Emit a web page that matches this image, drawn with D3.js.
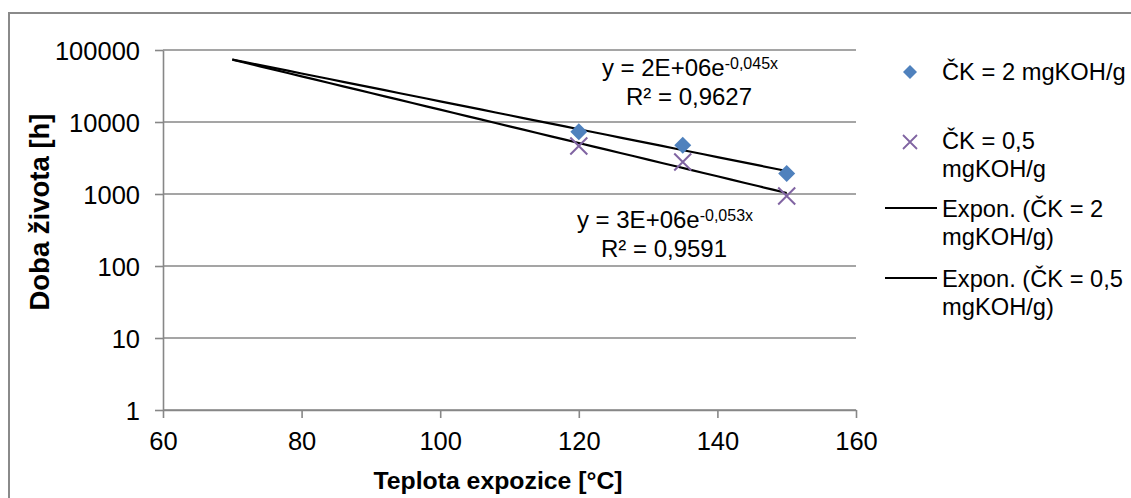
<!DOCTYPE html>
<html><head><meta charset="utf-8">
<script src="https://cdn.jsdelivr.net/npm/d3@7"></script>
<style>
body{margin:0;background:#fff;}
svg{display:block;font-family:"Liberation Sans",Arial,sans-serif;}
</style></head>
<body>
<svg id="chart" width="1131" height="498"></svg>
<script>
// ---- data ----
const temps = [120, 135, 150];
const ck2 = [7350, 4750, 1930];
const ck05 = [4650, 2780, 940];
const seriesNames = ["ČK = 2 mgKOH/g", "ČK = 0,5 mgKOH/g"];
const trendNames = ["Expon. (ČK = 2 mgKOH/g)", "Expon. (ČK = 0,5 mgKOH/g)"];
const trendFrom = 70;
const xTicks = [60, 80, 100, 120, 140, 160];
const yTicks = [1, 10, 100, 1000, 10000, 100000];
const eq1 = ["y = 2E+06e", "-0,045x", "R² = 0,9627"];
const eq2 = ["y = 3E+06e", "-0,053x", "R² = 0,9591"];
const xTitle = "Teplota expozice [°C]";
const yTitle = "Doba života [h]";

const svg = d3.select("#chart");
const x = d3.scaleLinear().domain([60, 160]).range([163, 856]);
const y = d3.scaleLog().domain([1, 100000]).range([410, 50]);
const grid = "#878787";

// outer border (top & left visible)
svg.append("rect").attr("x", 9).attr("y", 13).attr("width", 1140).attr("height", 500)
  .attr("fill", "none").attr("stroke", "#8a8a8a").attr("stroke-width", 2);

// gridlines
svg.append("g").selectAll("line").data(yTicks).join("line")
  .attr("x1", x(60)).attr("x2", x(160)).attr("y1", d => y(d)).attr("y2", d => y(d))
  .attr("stroke", grid).attr("stroke-width", 1.6);

// axes
const yAxis = svg.append("g").attr("transform", `translate(${x(60)},0)`)
  .call(d3.axisLeft(y).tickValues(yTicks).tickFormat(d3.format("d")).tickSize(8).tickSizeOuter(0).tickPadding(15));
const xAxis = svg.append("g").attr("transform", `translate(0,${y(1)})`)
  .call(d3.axisBottom(x).tickValues(xTicks).tickFormat(d3.format("d")).tickSize(8).tickSizeOuter(0).tickPadding(8));
[yAxis, xAxis].forEach(g => {
  g.selectAll("path,line").attr("stroke", grid).attr("stroke-width", 1.6);
  g.selectAll("text").attr("fill", "#000").style("font-size", "25.5px").style("font-family", '"Liberation Sans",Arial,sans-serif');
});
yAxis.selectAll("text").attr("dy", "0.36em");
xAxis.selectAll("text").attr("dy", "0.93em");

// titles
svg.append("text").attr("x", 498).attr("y", 489).attr("text-anchor", "middle")
  .style("font-size", "24.8px").style("font-weight", "bold").text(xTitle);
svg.append("text").attr("transform", "translate(49,212) rotate(-90)").attr("text-anchor", "middle")
  .style("font-size", "27.5px").style("font-weight", "bold").text(yTitle);

// exponential fits (least squares on ln y)
function expFit(xs, ys) {
  const ly = ys.map(Math.log);
  const mx = d3.mean(xs), my = d3.mean(ly);
  const b = d3.sum(xs, (v, i) => (v - mx) * (ly[i] - my)) / d3.sum(xs, v => (v - mx) ** 2);
  const a = my - b * mx;
  return t => Math.exp(a + b * t);
}
const fits = [expFit(temps, ck2), expFit(temps, ck05)];
const line = d3.line().x(d => x(d[0])).y(d => y(d[1]));
fits.forEach(f => {
  const pts = d3.range(trendFrom, 150.001, 2).map(t => [t, f(t)]);
  svg.append("path").attr("d", line(pts)).attr("fill", "none").attr("stroke", "#000").attr("stroke-width", 2.2);
});

// markers
const diamond = (s) => `M0,${-s}L${s},0L0,${s}L${-s},0Z`;
const cross = (s) => `M${-s},${-s}L${s},${s}M${-s},${s}L${s},${-s}`;
svg.append("g").selectAll("path").data(temps.map((t, i) => [t, ck2[i]])).join("path")
  .attr("transform", d => `translate(${x(d[0])},${y(d[1])})`).attr("d", diamond(8.5)).attr("fill", "#4F81BD");
svg.append("g").selectAll("path").data(temps.map((t, i) => [t, ck05[i]])).join("path")
  .attr("transform", d => `translate(${x(d[0])},${y(d[1])})`).attr("d", cross(8.5))
  .attr("fill", "none").attr("stroke", "#8064A2").attr("stroke-width", 2);

// equations
function eqn(e, cx, by) {
  const t = svg.append("text").attr("x", cx).attr("y", by).attr("text-anchor", "middle").style("font-size", "24px");
  t.append("tspan").text(e[0]);
  t.append("tspan").attr("dy", -7).style("font-size", "16px").text(e[1]);
  svg.append("text").attr("x", cx - 1).attr("y", by + 29).attr("text-anchor", "middle").style("font-size", "24px").text(e[2]);
}
eqn(eq1, 690, 76);
eqn(eq2, 665, 228);

// legend
const lg = svg.append("g").style("font-size", "23.7px");
const tx = 942;
lg.append("path").attr("transform", "translate(910,72)").attr("d", diamond(7)).attr("fill", "#4F81BD");
lg.append("text").attr("x", tx).attr("y", 80).text(seriesNames[0]);
lg.append("path").attr("transform", "translate(910,142)").attr("d", cross(7))
  .attr("fill", "none").attr("stroke", "#8064A2").attr("stroke-width", 1.8);
lg.append("text").attr("x", tx).attr("y", 149).text("ČK = 0,5");
lg.append("text").attr("x", tx).attr("y", 177).text("mgKOH/g");
lg.append("line").attr("x1", 885).attr("x2", 937).attr("y1", 208).attr("y2", 208).attr("stroke", "#000").attr("stroke-width", 2);
lg.append("text").attr("x", tx).attr("y", 217).text("Expon. (ČK = 2");
lg.append("text").attr("x", tx).attr("y", 245).text("mgKOH/g)");
lg.append("line").attr("x1", 885).attr("x2", 937).attr("y1", 278).attr("y2", 278).attr("stroke", "#000").attr("stroke-width", 2);
lg.append("text").attr("x", tx).attr("y", 287).text("Expon. (ČK = 0,5");
lg.append("text").attr("x", tx).attr("y", 315).text("mgKOH/g)");
</script>
</body></html>
